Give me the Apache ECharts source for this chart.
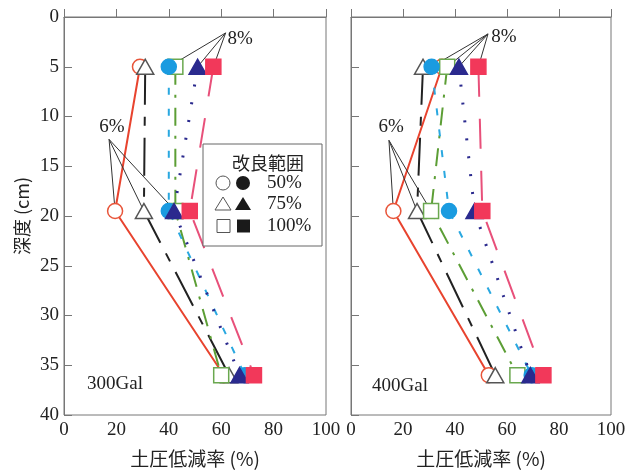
<!DOCTYPE html>
<html>
<head>
<meta charset="utf-8">
<script src="https://cdn.jsdelivr.net/npm/echarts@6/dist/echarts.min.js"></script>
<style>
  html, body { margin: 0; padding: 0; background: #ffffff; }
  #chart { width: 637px; height: 474px; }
</style>
</head>
<body>
<div id="chart"></div>
<script>
// Measurement depths (cm)
const depths = [5, 19.5, 36];

// Earth-pressure reduction ratio (%) at each depth, 300Gal
const g300_open50   = [29, 19.5, 61];
const g300_open75   = [31, 30.5, 63];
const g300_open100  = [42.5, 42.5, 60];
const g300_fill50   = [40, 40, 69];
const g300_fill75   = [51, 42, 67];
const g300_fill100  = [57, 48, 72.5];

// Earth-pressure reduction ratio (%) at each depth, 400Gal
const g400_open50   = [35, 16.3, 53];
const g400_open75   = [27.7, 25.4, 55.5];
const g400_open100  = [37, 30.8, 64];
const g400_fill50   = [31, 37.7, 69.5];
const g400_fill75   = [41.5, 47.5, 69];
const g400_fill100  = [49, 50.5, 74];

const panelTitles = ['300Gal', '400Gal'];
const xAxisTitle = '土圧低減率 (%)';
const yAxisTitle = '深度 (cm)';
const legendTitle = '改良範囲';
const legendRows = ['50%', '75%', '100%'];
const cementLabels = ['6%', '8%'];

const SERIF = '"Liberation Serif", "DejaVu Serif", serif';
const CJK = '"Noto Sans CJK JP", "Noto Sans CJK SC", sans-serif';

// Style per series: open = 6% cement, filled = 8% cement; shape = improved range
const styles = [
  { key: 'open50',  symbol: 'circle',   size: 15,       fill: '#ffffff', stroke: '#e8553a', line: '#e8432e', dash: 'solid',          width: 2 },
  { key: 'open75',  symbol: 'triangle', size: [17, 15], fill: '#ffffff', stroke: '#555555', line: '#222222', dash: [38, 12, 9, 12],  width: 2 },
  { key: 'open100', symbol: 'rect',     size: 15,       fill: '#ffffff', stroke: '#6aa84f', line: '#5c9e35', dash: [18, 10, 3, 10],  width: 2 },
  { key: 'fill50',  symbol: 'circle',   size: 15,       fill: '#1a9be0', stroke: '#1a9be0', line: '#2aa8e0', dash: [7, 14],          width: 2 },
  { key: 'fill75',  symbol: 'triangle', size: [17, 15], fill: '#2b2a8e', stroke: '#2b2a8e', line: '#2b2a8e', dash: [2, 16],          width: 3 },
  { key: 'fill100', symbol: 'rect',     size: 15,       fill: '#f2385a', stroke: '#f2385a', line: '#e8507a', dash: [30, 22],         width: 2 }
];

const panels = [
  { open50: g300_open50, open75: g300_open75, open100: g300_open100, fill50: g300_fill50, fill75: g300_fill75, fill100: g300_fill100 },
  { open50: g400_open50, open75: g400_open75, open100: g400_open100, fill50: g400_fill50, fill75: g400_fill75, fill100: g400_fill100 }
];

// Callout anchors and text positions (axis units), plus which points each callout points at
const callouts = [
  [
    { text: cementLabels[1], anchor: [61.7, 1.6], textAt: [67.2, 2.2], targets: [['fill50', 0], ['fill75', 0], ['fill100', 0]] },
    { text: cementLabels[0], anchor: [17.2, 12.3], textAt: [18.3, 11.1], targets: [['open50', 1], ['open75', 1], ['open100', 1]] }
  ],
  [
    { text: cementLabels[1], anchor: [52.7, 1.7], textAt: [58.8, 2.0], targets: [['fill50', 0], ['open100', 0], ['fill75', 0], ['fill100', 0]] },
    { text: cementLabels[0], anchor: [14.6, 12.4], textAt: [15.4, 11.1], targets: [['open50', 1], ['open75', 1], ['open100', 1]] }
  ]
];

const grids = [
  { left: 64, top: 17, width: 262, height: 398 },
  { left: 351, top: 17, width: 260, height: 398 }
];

const axisColor = '#777777';
const textColor = '#222222';

const xAxes = grids.map((g, i) => ({
  type: 'value', gridIndex: i, min: 0, max: 100, interval: 20,
  name: xAxisTitle, nameLocation: 'middle', nameGap: 34,
  nameTextStyle: { fontFamily: CJK, fontSize: 19, color: textColor },
  axisLine: { show: true, lineStyle: { color: axisColor, width: 1 } },
  axisTick: { show: true, inside: true, length: 8, lineStyle: { color: axisColor } },
  axisLabel: { fontFamily: SERIF, fontSize: 19, color: textColor, margin: 6 },
  splitLine: { show: false }
}));

const yAxes = grids.map((g, i) => ({
  type: 'value', gridIndex: i, min: 0, max: 40, interval: 5, inverse: true,
  name: i === 0 ? yAxisTitle : '', nameLocation: 'middle', nameGap: 33, nameRotate: 90,
  nameTextStyle: { fontFamily: CJK, fontSize: 18, color: textColor },
  axisLine: { show: true, lineStyle: { color: axisColor, width: 1 } },
  axisTick: { show: true, inside: true, length: 8, lineStyle: { color: axisColor } },
  axisLabel: { show: i === 0, fontFamily: SERIF, fontSize: 19, color: textColor, margin: 5 },
  splitLine: { show: false }
}));

const series = [];
panels.forEach((panel, p) => {
  // connecting lines
  styles.forEach((s, k) => {
    series.push({
      type: 'line', xAxisIndex: p, yAxisIndex: p, silent: true,
      data: panel[s.key].map((v, i) => [v, depths[i]]),
      symbol: 'none', z: 2,
      lineStyle: { color: s.line, width: s.width, type: s.dash }
    });
  });
  // callout leader lines and their labels
  callouts[p].forEach(c => {
    series.push({
      type: 'scatter', xAxisIndex: p, yAxisIndex: p, silent: true, z: 3,
      symbolSize: 0,
      itemStyle: { opacity: 1 },
      data: [{ value: c.textAt }],
      label: { show: true, position: 'inside', formatter: c.text,
               fontFamily: SERIF, fontSize: 19, color: textColor },
      markLine: {
        silent: true, symbol: 'none', animation: false,
        lineStyle: { color: '#333333', width: 1, type: 'solid', opacity: 1 },
        label: { show: false },
        data: c.targets.map(([key, i]) => [
          { coord: c.anchor },
          { coord: [panel[key][i], depths[i]] }
        ])
      }
    });
  });
  // markers
  styles.forEach((s, k) => {
    series.push({
      type: 'scatter', xAxisIndex: p, yAxisIndex: p, silent: true,
      data: panel[s.key].map((v, i) => [v, depths[i]]),
      symbol: s.symbol, symbolSize: s.size, z: 10 + k,
      itemStyle: { color: s.fill, borderColor: s.stroke, borderWidth: 1.5, opacity: 1 }
    });
  });
});

// legend box (improved range) drawn inside the left panel
const lgX = 203, lgY = 144;
const rowY = [lgY + 39, lgY + 60, lgY + 82];
const legendGraphics = [
  { type: 'rect', shape: { x: lgX, y: lgY, width: 119, height: 102 },
    style: { fill: '#ffffff', stroke: '#666666', lineWidth: 1 }, z: 50 },
  { type: 'text', x: lgX + 65, y: lgY + 19, z: 51,
    style: { text: legendTitle, font: '18px ' + CJK, fill: textColor, textAlign: 'center', textVerticalAlign: 'middle' } },
  // circles
  { type: 'circle', shape: { cx: lgX + 20, cy: rowY[0], r: 7 }, style: { fill: '#fff', stroke: '#555', lineWidth: 1 }, z: 51 },
  { type: 'circle', shape: { cx: lgX + 40, cy: rowY[0], r: 7 }, style: { fill: '#1a1a1a' }, z: 51 },
  // triangles
  { type: 'polygon', shape: { points: [[lgX + 20, rowY[1] - 7], [lgX + 28, rowY[1] + 6], [lgX + 12, rowY[1] + 6]] }, style: { fill: '#fff', stroke: '#555', lineWidth: 1 }, z: 51 },
  { type: 'polygon', shape: { points: [[lgX + 40, rowY[1] - 7], [lgX + 48, rowY[1] + 6], [lgX + 32, rowY[1] + 6]] }, style: { fill: '#1a1a1a' }, z: 51 },
  // squares
  { type: 'rect', shape: { x: lgX + 14, y: rowY[2] - 6.5, width: 13, height: 13 }, style: { fill: '#fff', stroke: '#555', lineWidth: 1 }, z: 51 },
  { type: 'rect', shape: { x: lgX + 34, y: rowY[2] - 6.5, width: 13, height: 13 }, style: { fill: '#1a1a1a' }, z: 51 }
];
legendRows.forEach((t, i) => {
  legendGraphics.push({ type: 'text', x: lgX + 64, y: rowY[i], z: 51,
    style: { text: t, font: '19px ' + SERIF, fill: textColor, textAlign: 'left', textVerticalAlign: 'middle' } });
});

const titleGraphics = [
  { type: 'text', x: 87, y: 384, z: 51,
    style: { text: panelTitles[0], font: '19px ' + SERIF, fill: textColor, textAlign: 'left', textVerticalAlign: 'middle' } },
  { type: 'text', x: 372, y: 386, z: 51,
    style: { text: panelTitles[1], font: '19px ' + SERIF, fill: textColor, textAlign: 'left', textVerticalAlign: 'middle' } }
];

const chart = echarts.init(document.getElementById('chart'), null, { renderer: 'canvas' });
chart.setOption({
  backgroundColor: '#ffffff',
  animation: false,
  grid: grids.map(g => Object.assign({ show: true, borderColor: axisColor, borderWidth: 1, backgroundColor: 'transparent', containLabel: false }, g)),
  xAxis: xAxes,
  yAxis: yAxes,
  series: series,
  graphic: legendGraphics.concat(titleGraphics)
});
</script>
</body>
</html>
